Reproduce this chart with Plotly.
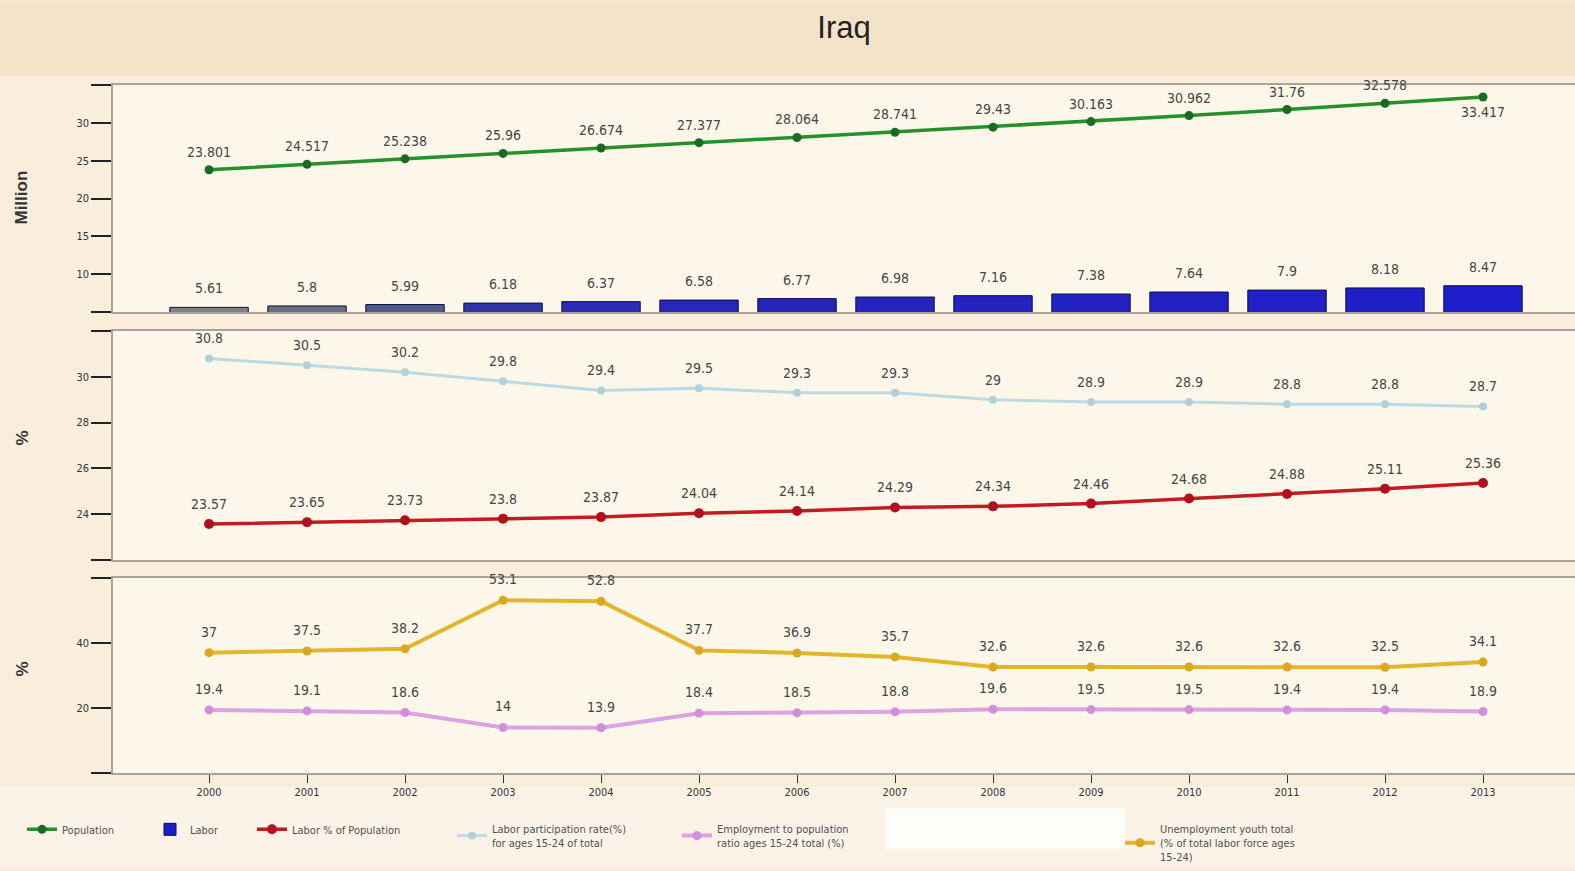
import plotly.graph_objects as go
from plotly.subplots import make_subplots

# ---------------- data ----------------
years = [2000, 2001, 2002, 2003, 2004, 2005, 2006, 2007, 2008, 2009, 2010, 2011, 2012, 2013]
population = [23.801, 24.517, 25.238, 25.96, 26.674, 27.377, 28.064, 28.741, 29.43, 30.163, 30.962, 31.76, 32.578, 33.417]
labor = [5.61, 5.8, 5.99, 6.18, 6.37, 6.58, 6.77, 6.98, 7.16, 7.38, 7.64, 7.9, 8.18, 8.47]
labor_pct = [23.57, 23.65, 23.73, 23.8, 23.87, 24.04, 24.14, 24.29, 24.34, 24.46, 24.68, 24.88, 25.11, 25.36]
participation = [30.8, 30.5, 30.2, 29.8, 29.4, 29.5, 29.3, 29.3, 29, 28.9, 28.9, 28.8, 28.8, 28.7]
employment = [19.4, 19.1, 18.6, 14, 13.9, 18.4, 18.5, 18.8, 19.6, 19.5, 19.5, 19.4, 19.4, 18.9]
unemployment = [37, 37.5, 38.2, 53.1, 52.8, 37.7, 36.9, 35.7, 32.6, 32.6, 32.6, 32.6, 32.5, 34.1]

y1_ticks = [5, 10, 15, 20, 25, 30, 35]
y2_ticks = [22, 24, 26, 28, 30, 32]
y3_ticks = [0, 20, 40, 60]

names = {
    "pop": "Population",
    "lab": "Labor",
    "labpct": "Labor % of Population",
    "part": "Labor participation rate(%)<br>for ages 15-24 of total",
    "emp": "Employment to population<br>ratio ages 15-24 total (%)",
    "unemp": "Unemployment youth total<br>(% of total labor force ages<br>15-24)",
}

# ---------------- styling ----------------
NARROW = "Liberation Sans Narrow, DejaVu Sans Condensed, Arial Narrow, sans-serif"
SANS = "Liberation Sans, Arial, sans-serif"
bar_colors = ["#7d8088", "#66707f", "#4f5a86", "#2f36a8", "#2a2db4", "#2727b8", "#2525bc",
              "#2424be", "#2323c0", "#2222c2", "#2121c4", "#2020c6", "#1f1fc8", "#1e1eca"]

fig = make_subplots(rows=3, cols=1, shared_xaxes=True)

# Panel 1
fig.add_trace(go.Bar(x=years, y=labor, name=names["lab"], width=0.8,
                     marker=dict(color=bar_colors, line=dict(color="#0c0c50", width=1)),
                     showlegend=False), row=1, col=1)
# legend swatch for the Labor bars (no data of its own)
fig.add_trace(go.Bar(x=[None], y=[None], name=names["lab"],
                     marker=dict(color="#1e1ec8", line=dict(color="#0c0c50", width=1)),
                     legend="legend2"), row=1, col=1)
fig.add_trace(go.Scatter(x=years, y=population, name=names["pop"], mode="lines+markers",
                         line=dict(color="#25902c", width=3.5),
                         marker=dict(color="#1b6a22", size=9),
                         legend="legend"), row=1, col=1)

# Panel 2
fig.add_trace(go.Scatter(x=years, y=labor_pct, name=names["labpct"], mode="lines+markers",
                         line=dict(color="#c41a22", width=3.5),
                         marker=dict(color="#b0101e", size=10),
                         legend="legend3"), row=2, col=1)
fig.add_trace(go.Scatter(x=years, y=participation, name=names["part"], mode="lines+markers",
                         line=dict(color="#bcd9e4", width=3),
                         marker=dict(color="#b2d0dc", size=8),
                         legend="legend4"), row=2, col=1)

# Panel 3
fig.add_trace(go.Scatter(x=years, y=employment, name=names["emp"], mode="lines+markers",
                         line=dict(color="#dca2e2", width=4),
                         marker=dict(color="#d18fd9", size=9),
                         legend="legend5"), row=3, col=1)
fig.add_trace(go.Scatter(x=years, y=unemployment, name=names["unemp"], mode="lines+markers",
                         line=dict(color="#e2b52c", width=4),
                         marker=dict(color="#d9a822", size=9),
                         legend="legend6"), row=3, col=1)

# ---------------- value labels ----------------
annotations = []
lab_font = dict(family=NARROW, size=14, color="#454545")

def add_labels(xs, ys, xref, yref, shift, last_shift=None):
    for i, (xv, yv) in enumerate(zip(xs, ys)):
        s = shift if (last_shift is None or i < len(xs) - 1) else last_shift
        annotations.append(dict(x=xv, y=yv, xref=xref, yref=yref, text=f"{yv:g}",
                                showarrow=False, yshift=s, font=lab_font))

add_labels(years, population, "x", "y", 18, last_shift=-15)
add_labels(years, labor, "x", "y", 19)
add_labels(years, participation, "x2", "y2", 20)
add_labels(years, labor_pct, "x2", "y2", 20)
add_labels(years, unemployment, "x3", "y3", 21)
add_labels(years, employment, "x3", "y3", 21)

# axis titles
L, R_, TOP, BOT = 113, 1575, 85, 776
W = R_ - L
H = BOT - TOP

def px_x(p):
    return (p - L) / W

def px_y(p):
    return (BOT - p) / H

for txt, ypx in [("Million", 198), ("%", 440), ("%", 672)]:
    annotations.append(dict(x=px_x(22), y=px_y(ypx), xref="paper", yref="paper", text=f"<b>{txt}</b>",
                            textangle=-90, showarrow=False, xanchor="center", yanchor="middle",
                            font=dict(family=SANS, size=17, color="#333")))

# ---------------- axes ----------------
xr = [1999.02, 2000 + (R_ - 209) / 98.0]
for i in (1, 2, 3):
    fig.update_xaxes(row=i, col=1, range=xr, showgrid=False, zeroline=False,
                     showline=True, linecolor="#aaa396", linewidth=1.5, mirror=True,
                     tickmode="array", tickvals=years, ticktext=[str(y) for y in years],
                     showticklabels=(i == 3), ticks="outside" if i == 3 else "",
                     ticklen=8, tickcolor="#333", tickwidth=1,
                     tickfont=dict(family=NARROW, size=11, color="#333"))

yax_common = dict(showgrid=False, zeroline=False, showline=True, linecolor="#aaa396", linewidth=1.5,
                  ticks="outside", ticklen=20, tickwidth=1.5, tickcolor="#222",
                  tickfont=dict(family=NARROW, size=11, color="#333"))

def inner_labels(ticks):
    return [""] + [f"{t:g}" for t in ticks[1:-1]] + [""]

fig.update_yaxes(row=1, col=1, range=[5, 35], tickmode="array", tickvals=y1_ticks,
                 ticktext=inner_labels(y1_ticks), domain=[px_y(313), 1.0], **yax_common)
fig.update_yaxes(row=2, col=1, range=[22, 32], tickmode="array", tickvals=y2_ticks,
                 ticktext=inner_labels(y2_ticks), domain=[px_y(562), px_y(332)], **yax_common)
fig.update_yaxes(row=3, col=1, range=[0, 60], tickmode="array", tickvals=y3_ticks,
                 ticktext=inner_labels(y3_ticks), domain=[0.0, px_y(580)], **yax_common)

# ---------------- legends ----------------
leg_y = px_y(818)
leg_common = dict(orientation="h", yanchor="top", y=leg_y, xanchor="left",
                  bgcolor="rgba(0,0,0,0)", itemwidth=30,
                  font=dict(family=NARROW, size=11, color="#505050"))
legend_x_px = {"legend": 22, "legend2": 150, "legend3": 252, "legend4": 452,
               "legend5": 677, "legend6": 1120}
legend_layout = {k: dict(x=px_x(v), **leg_common) for k, v in legend_x_px.items()}

# ---------------- shapes (background bands) ----------------
shapes = [
    dict(type="rect", xref="paper", yref="paper", x0=px_x(0), x1=px_x(1575),
         y0=px_y(76), y1=px_y(0), fillcolor="#f4e3c8", line=dict(width=0), layer="below"),
    dict(type="line", xref="paper", yref="paper", x0=px_x(0), x1=px_x(1575),
         y0=px_y(77), y1=px_y(77), line=dict(color="#f9eedd", width=2), layer="below"),
    dict(type="rect", xref="paper", yref="paper", x0=px_x(0), x1=px_x(1575),
         y0=px_y(871), y1=px_y(790), fillcolor="#fbf3e8", line=dict(width=0), layer="below"),
    dict(type="rect", xref="paper", yref="paper", x0=px_x(885), x1=px_x(1125),
         y0=px_y(852), y1=px_y(812), fillcolor="#fffdf8", line=dict(width=0), layer="below"),
]

fig.update_layout(
    width=1575, height=871,
    margin=dict(l=L, r=0, t=TOP, b=871 - BOT),
    paper_bgcolor="#f9eddc",
    plot_bgcolor="#fdf7ea",
    title=dict(text="Iraq", x=0.5, xref="paper", xanchor="center", y=1 - 27 / 871, yanchor="middle",
               font=dict(family=SANS, size=31, color="#222")),
    showlegend=True,
    bargap=0.2,
    barmode="overlay",
    annotations=annotations,
    shapes=shapes,
    **legend_layout,
)

fig.write_html("out.html", config={"displayModeBar": False},
               post_script="document.body.style.margin='0';document.body.style.overflow='hidden';"
                           "document.body.style.background='#f9eddc';")
